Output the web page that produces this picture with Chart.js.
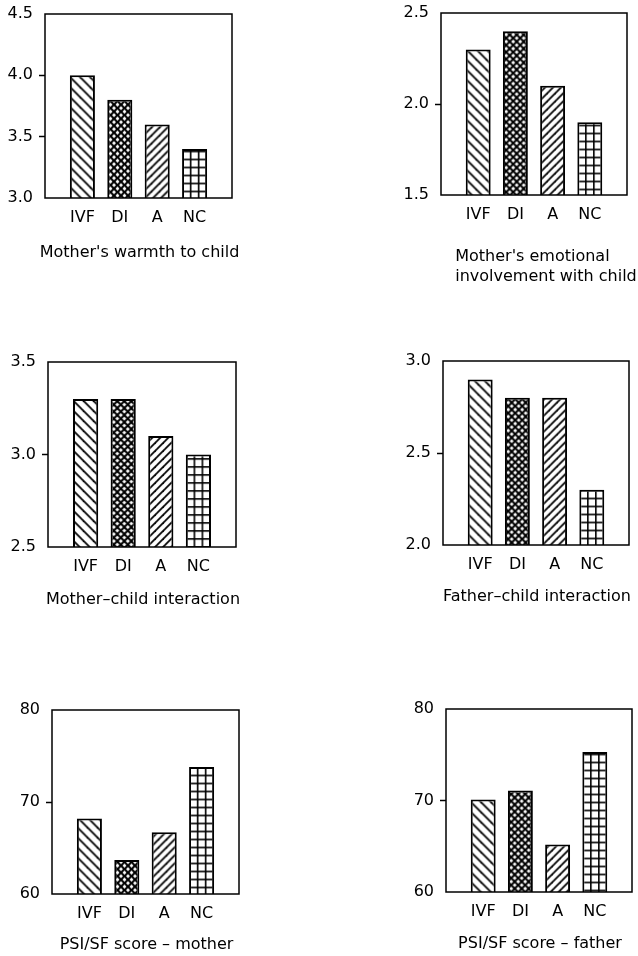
<!DOCTYPE html>
<html><head><meta charset="utf-8">
<script src="https://cdn.jsdelivr.net/npm/chart.js@4.4.1/dist/chart.umd.min.js"></script>
<style>
html,body{margin:0;padding:0;background:#fff;overflow:hidden;width:638px;height:956px;}
#wrap{position:relative;width:638px;height:956px;overflow:hidden;}
canvas{position:absolute;}
</style></head><body><div id="wrap"></div>
<script>
// ---- data ----
const categories = ['IVF', 'DI', 'A', 'NC'];
const warmthValues = [4.0, 3.8, 3.6, 3.4];
const emotionalValues = [2.3, 2.4, 2.1, 1.9];
const motherInteractionValues = [3.3, 3.3, 3.1, 3.0];
const fatherInteractionValues = [2.9, 2.8, 2.8, 2.3];
const psiMotherValues = [68.2, 63.7, 66.7, 73.8];
const psiFatherValues = [70.1, 71.1, 65.2, 75.3];
const chartTitles = [
  ["Mother's warmth to child"],
  ["Mother's emotional", "involvement with child"],
  ["Mother\u2013child interaction"],
  ["Father\u2013child interaction"],
  ["PSI/SF score \u2013 mother"],
  ["PSI/SF score \u2013 father"]
];
const yMin = [3.0, 1.5, 2.5, 2.0, 60, 60];
const yMax = [4.5, 2.5, 3.5, 3.0, 80, 80];
const yStep = [0.5, 0.5, 0.5, 0.5, 10, 10];
const yDecimals = [1, 1, 1, 1, 0, 0];
const seriesList = [warmthValues, emotionalValues, motherInteractionValues,
                    fatherInteractionValues, psiMotherValues, psiFatherValues];
const patternKinds = ['back', 'cross', 'fwd', 'grid'];

// ---- page layout (plot frame edges: left, top, right, bottom) ----
const boxes = [[45,14,232,198],[441,13,627,195],[48,362,236,547],[443,361,629,545],[52,710,239,894],[446,709,632,892]];
const captionOffsets = [55, 62, 53, 52, 51, 52];
const captionShift = [1, 12, 1, 1, 1, 1];
const AXW = 45, PAD_TOP = 16, PAD_RIGHT = 10, LINE_H = 20;

Chart.defaults.font.family = "'DejaVu Sans', sans-serif";
Chart.defaults.font.size = 16;
Chart.defaults.color = '#000';

function makePattern(ctx, kind) {
  const s = {back: 10, fwd: 8, cross: 7, grid: 8}[kind];
  const t = document.createElement('canvas');
  t.width = s; t.height = s;
  const g = t.getContext('2d');
  g.fillStyle = '#fff'; g.fillRect(0, 0, s, s);
  g.strokeStyle = '#000'; g.fillStyle = '#000';
  if (kind === 'grid') {
    g.fillRect(0, 0, 1.6, s);
    g.fillRect(0, 0, s, 1.6);
  } else {
    g.lineWidth = kind === 'cross' ? 2.0 : 1.8;
    const back = () => { for (const o of [-s, 0, s]) { g.beginPath(); g.moveTo(o - 1, -1); g.lineTo(o + s + 1, s + 1); g.stroke(); } };
    const fwd = () => { for (const o of [-s, 0, s]) { g.beginPath(); g.moveTo(o - 1, s + 1); g.lineTo(o + s + 1, -1); g.stroke(); } };
    if (kind === 'back' || kind === 'cross') back();
    if (kind === 'fwd' || kind === 'cross') fwd();
  }
  return ctx.createPattern(t, 'repeat');
}

const framePlugin = {
  id: 'frame',
  afterDraw(chart) {
    const {ctx, chartArea: a} = chart;
    ctx.save();
    ctx.strokeStyle = '#000';
    ctx.lineWidth = 1.5;
    ctx.strokeRect(a.left, a.top, a.right - a.left, a.bottom - a.top);
    ctx.restore();
  }
};

const captionPlugin = {
  id: 'caption',
  afterDraw(chart, args, opts) {
    const {ctx, chartArea: a} = chart;
    const lines = opts.lines || [];
    ctx.save();
    ctx.font = "16px 'DejaVu Sans', sans-serif";
    ctx.fillStyle = '#000';
    ctx.textBaseline = 'middle';
    ctx.textAlign = 'left';
    const w = Math.max(...lines.map(l => ctx.measureText(l).width));
    const x0 = (a.left + a.right) / 2 + opts.shift - w / 2;
    lines.forEach((l, k) => ctx.fillText(l, x0, a.bottom + opts.offset + k * LINE_H));
    ctx.restore();
  }
};

const patternAlignPlugin = {
  id: 'patternAlign',
  beforeDatasetsDraw(chart) {
    const meta = chart.getDatasetMeta(0);
    const ds = chart.data.datasets[0];
    meta.data.forEach((el, j) => {
      const p = ds.backgroundColor[j];
      if (p && typeof p === 'object' && p.setTransform && isFinite(el.x)) {
        const left = el.x - el.width / 2;
        p.setTransform(new DOMMatrix([1, 0, 0, 1, left - 0.3, el.base + 0.6]));
      }
    });
  }
};

const wrap = document.getElementById('wrap');

function makeChart(i) {
  const [L, T, R, B] = boxes[i];
  const title = chartTitles[i];
  const xh = captionOffsets[i] + 12 + (title.length - 1) * LINE_H;
  const cl = L - AXW, ct = T - PAD_TOP;
  const cw = R - cl + PAD_RIGHT, chh = B - ct + xh;
  const canvas = document.createElement('canvas');
  canvas.width = cw; canvas.height = chh;
  canvas.style.left = cl + 'px'; canvas.style.top = ct + 'px';
  canvas.style.width = cw + 'px'; canvas.style.height = chh + 'px';
  wrap.appendChild(canvas);
  const ctx = canvas.getContext('2d');
  const patterns = patternKinds.map(k => makePattern(ctx, k));
  const labels = [''].concat(categories, ['']);
  const data = [null].concat(seriesList[i], [null]);
  const bg = ['#fff'].concat(patterns, ['#fff']);
  new Chart(ctx, {
    type: 'bar',
    data: {
      labels: labels,
      datasets: [{
        data: data,
        backgroundColor: bg,
        borderColor: '#000',
        borderWidth: 2,
        borderSkipped: false,
        categoryPercentage: 0.67,
        barPercentage: 1.0
      }]
    },
    options: {
      responsive: false,
      animation: false,
      devicePixelRatio: 1,
      events: [],
      layout: {padding: {top: PAD_TOP, right: PAD_RIGHT, left: 0, bottom: 0}},
      plugins: {
        legend: {display: false}, tooltip: {enabled: false}, title: {display: false},
        caption: {lines: title, offset: captionOffsets[i], shift: captionShift[i]}
      },
      scales: {
        x: {
          type: 'category',
          offset: false,
          grid: {display: false, drawTicks: false},
          border: {display: false},
          ticks: {autoSkip: false, maxRotation: 0, minRotation: 0, padding: 10, color: '#000',
                  font: {size: 16, lineHeight: 1.2}},
          afterFit: s => { s.height = xh; }
        },
        y: {
          min: yMin[i], max: yMax[i],
          grid: {display: true, drawOnChartArea: false, drawTicks: true, tickLength: 6, tickWidth: 1.5,
                 tickColor: c => (c.tick && c.tick.value > yMin[i] + 1e-9 && c.tick.value < yMax[i] - 1e-9) ? '#000' : 'rgba(0,0,0,0)'},
          border: {display: false},
          ticks: {stepSize: yStep[i], padding: 6, color: '#000', font: {size: 16},
                  callback: v => Number(v).toFixed(yDecimals[i])},
          afterFit: s => { s.width = AXW; }
        }
      }
    },
    plugins: [patternAlignPlugin, framePlugin, captionPlugin]
  });
}

for (let i = 0; i < 6; i++) makeChart(i);
</script>
</body></html>
